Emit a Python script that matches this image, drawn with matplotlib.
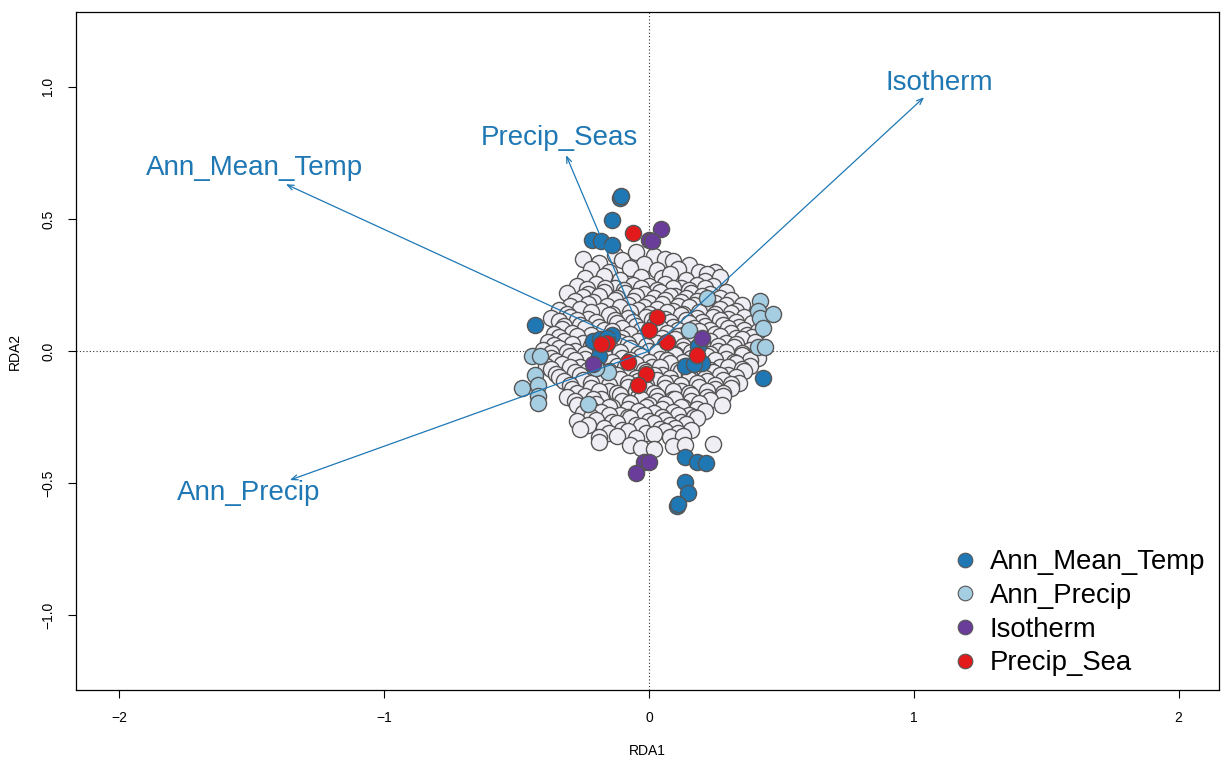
import matplotlib
matplotlib.use("Agg")
import matplotlib.pyplot as plt
from matplotlib.lines import Line2D

plt.rcParams['font.family'] = ['Liberation Sans', 'DejaVu Sans']

# ---------------- data ----------------
# grey site scores
grey_pts = [
    (-0.25, 0.35), (-0.13, 0.365), (-0.05, 0.375), (0.02, 0.36), (0.06, 0.35),
    (-0.19, 0.335), (-0.10, 0.345), (-0.02, 0.33), (0.09, 0.34), (0.15, 0.325), (0.25, 0.30),
    (-0.22, 0.31), (-0.15, 0.30), (-0.07, 0.315), (0.03, 0.305), (0.11, 0.31), (0.19, 0.30), (0.22, 0.29),
    (-0.24, 0.275), (-0.17, 0.285), (-0.11, 0.27), (-0.03, 0.28), (0.05, 0.275), (0.08, 0.29), (0.14, 0.27), (0.21, 0.265), (0.27, 0.28),
    (-0.27, 0.245), (-0.20, 0.255), (-0.13, 0.24), (-0.06, 0.25), (0.00, 0.245), (0.06, 0.255), (0.12, 0.24), (0.18, 0.25), (0.24, 0.245),
    (-0.235, 0.235), (-0.165, 0.24), (-0.095, 0.232), (-0.03, 0.238), (0.03, 0.23), (0.09, 0.24), (0.15, 0.232), (0.21, 0.238),
    (-0.31, 0.22), (-0.23, 0.215), (-0.17, 0.225), (-0.09, 0.22), (-0.02, 0.215), (0.04, 0.225), (0.10, 0.21), (0.16, 0.22), (0.23, 0.215), (0.29, 0.225),
    (-0.25, 0.205), (-0.19, 0.21), (-0.12, 0.20), (-0.05, 0.208), (0.02, 0.20), (0.08, 0.21), (0.14, 0.202), (0.20, 0.208), (0.27, 0.20),
    (-0.28, 0.19), (-0.21, 0.185), (-0.13, 0.195), (-0.06, 0.19), (0.00, 0.18), (0.06, 0.195), (0.12, 0.185), (0.18, 0.19), (0.25, 0.18), (0.31, 0.195), (0.35, 0.175),
    (-0.30, 0.172), (-0.23, 0.178), (-0.16, 0.17), (-0.08, 0.176), (-0.02, 0.168), (0.05, 0.178), (0.11, 0.17), (0.17, 0.176), (0.23, 0.168), (0.29, 0.174),
    (-0.34, 0.155), (-0.26, 0.16), (-0.18, 0.15), (-0.11, 0.165), (-0.04, 0.155), (0.03, 0.16), (0.09, 0.15), (0.15, 0.165), (0.21, 0.155), (0.27, 0.16), (0.33, 0.15),
    (-0.31, 0.142), (-0.22, 0.148), (-0.14, 0.14), (-0.07, 0.146), (0.00, 0.14), (0.07, 0.148), (0.13, 0.14), (0.19, 0.146), (0.25, 0.14), (0.31, 0.145),
    (-0.37, 0.125), (-0.30, 0.13), (-0.23, 0.12), (-0.15, 0.135), (-0.08, 0.125), (-0.01, 0.13), (0.06, 0.12), (0.12, 0.135), (0.18, 0.125), (0.24, 0.13), (0.30, 0.12), (0.36, 0.13),
    (-0.34, 0.112), (-0.27, 0.118), (-0.20, 0.11), (-0.13, 0.116), (-0.06, 0.11), (0.01, 0.118), (0.08, 0.11), (0.14, 0.116), (0.20, 0.11), (0.27, 0.116), (0.33, 0.11),
    (-0.32, 0.095), (-0.26, 0.10), (-0.19, 0.09), (-0.12, 0.105), (-0.05, 0.095), (0.02, 0.10), (0.09, 0.09), (0.15, 0.105), (0.21, 0.095), (0.28, 0.10), (0.34, 0.09), (0.39, 0.105),
    (-0.33, 0.082), (-0.24, 0.088), (-0.17, 0.08), (-0.10, 0.086), (-0.03, 0.08), (0.04, 0.088), (0.11, 0.08), (0.17, 0.086), (0.23, 0.08), (0.30, 0.086), (0.36, 0.08),
    (-0.36, 0.065), (-0.29, 0.07), (-0.22, 0.06), (-0.14, 0.075), (-0.07, 0.065), (0.00, 0.055), (0.07, 0.07), (0.13, 0.06), (0.19, 0.075), (0.25, 0.065), (0.31, 0.07), (0.37, 0.06), (0.41, 0.075),
    (-0.34, 0.052), (-0.27, 0.058), (-0.10, 0.05), (-0.02, 0.056), (0.05, 0.05), (0.11, 0.058), (0.17, 0.05), (0.27, 0.056), (0.33, 0.05), (0.39, 0.055),
    (-0.38, 0.035), (-0.32, 0.04), (-0.25, 0.03), (-0.11, 0.035), (-0.04, 0.04), (0.03, 0.03), (0.10, 0.045), (0.16, 0.035), (0.23, 0.04), (0.29, 0.03), (0.35, 0.045), (0.40, 0.035),
    (-0.36, 0.022), (-0.29, 0.028), (-0.22, 0.02), (-0.08, 0.026), (-0.01, 0.02), (0.06, 0.028), (0.13, 0.02), (0.20, 0.026), (0.26, 0.02), (0.33, 0.026),
    (-0.40, 0.005), (-0.34, 0.01), (-0.28, 0.00), (-0.21, 0.015), (-0.14, 0.005), (-0.07, 0.01), (0.00, 0.00), (0.06, 0.015), (0.13, 0.005), (0.19, 0.01), (0.26, 0.00), (0.32, 0.015), (0.38, 0.005),
    (-0.37, -0.008), (-0.31, -0.002), (-0.24, -0.01), (-0.11, -0.004), (-0.04, -0.01), (0.03, -0.002), (0.10, -0.01), (0.16, -0.004), (0.23, -0.01), (0.29, -0.004), (0.35, -0.008),
    (-0.37, -0.025), (-0.30, -0.02), (-0.24, -0.03), (-0.17, -0.015), (-0.10, -0.025), (-0.03, -0.02), (0.04, -0.03), (0.10, -0.015), (0.16, -0.025), (0.22, -0.02), (0.29, -0.03), (0.35, -0.015), (0.41, -0.025),
    (-0.35, -0.038), (-0.28, -0.032), (-0.14, -0.04), (-0.07, -0.032), (0.00, -0.04), (0.07, -0.032), (0.13, -0.04), (0.25, -0.032), (0.32, -0.04), (0.38, -0.035),
    (-0.39, -0.055), (-0.33, -0.05), (-0.26, -0.06), (-0.12, -0.055), (-0.05, -0.05), (0.01, -0.06), (0.08, -0.045), (0.14, -0.055), (0.20, -0.05), (0.27, -0.06), (0.33, -0.045), (0.38, -0.055),
    (-0.37, -0.068), (-0.30, -0.062), (-0.23, -0.07), (-0.09, -0.062), (-0.02, -0.07), (0.04, -0.062), (0.11, -0.07), (0.17, -0.062), (0.23, -0.07), (0.30, -0.062), (0.35, -0.068),
    (-0.35, -0.085), (-0.28, -0.08), (-0.22, -0.09), (-0.15, -0.075), (-0.08, -0.085), (-0.01, -0.08), (0.05, -0.09), (0.12, -0.075), (0.18, -0.085), (0.24, -0.08), (0.30, -0.09), (0.36, -0.075),
    (-0.34, -0.098), (-0.26, -0.092), (-0.19, -0.10), (-0.12, -0.092), (-0.05, -0.10), (0.02, -0.092), (0.08, -0.10), (0.15, -0.092), (0.21, -0.10), (0.27, -0.092), (0.33, -0.098),
    (-0.32, -0.115), (-0.25, -0.11), (-0.18, -0.12), (-0.11, -0.105), (-0.04, -0.115), (0.03, -0.11), (0.09, -0.12), (0.15, -0.105), (0.22, -0.115), (0.28, -0.11), (0.34, -0.12),
    (-0.30, -0.128), (-0.22, -0.122), (-0.15, -0.13), (-0.08, -0.122), (-0.01, -0.13), (0.06, -0.122), (0.12, -0.13), (0.18, -0.122), (0.25, -0.13), (0.31, -0.125),
    (-0.29, -0.145), (-0.22, -0.14), (-0.15, -0.15), (-0.08, -0.135), (-0.01, -0.145), (0.06, -0.14), (0.12, -0.15), (0.19, -0.135), (0.25, -0.145), (0.31, -0.14),
    (-0.27, -0.158), (-0.19, -0.152), (-0.12, -0.16), (-0.05, -0.152), (0.02, -0.16), (0.09, -0.152), (0.15, -0.16), (0.22, -0.152), (0.28, -0.158),
    (-0.31, -0.175), (-0.24, -0.17), (-0.18, -0.18), (-0.11, -0.165), (-0.04, -0.175), (0.03, -0.17), (0.09, -0.18), (0.16, -0.165), (0.22, -0.175), (0.28, -0.17),
    (-0.28, -0.188), (-0.21, -0.182), (-0.10, -0.19), (-0.03, -0.182), (0.03, -0.19), (0.10, -0.182), (0.16, -0.19), (0.23, -0.185),
    (-0.27, -0.205), (-0.20, -0.20), (-0.14, -0.21), (-0.07, -0.195), (0.00, -0.205), (0.06, -0.20), (0.13, -0.21), (0.19, -0.195), (0.275, -0.205),
    (-0.22, -0.218), (-0.15, -0.212), (-0.08, -0.22), (-0.01, -0.212), (0.05, -0.22), (0.12, -0.212), (0.18, -0.22),
    (-0.25, -0.235), (-0.18, -0.23), (-0.11, -0.24), (-0.04, -0.225), (0.02, -0.235), (0.09, -0.23), (0.15, -0.24), (0.21, -0.225),
    (-0.22, -0.248), (-0.15, -0.242), (-0.08, -0.25), (-0.02, -0.242), (0.05, -0.25), (0.11, -0.242), (0.17, -0.248),
    (-0.27, -0.265), (-0.20, -0.26), (-0.14, -0.27), (-0.07, -0.255), (0.00, -0.265), (0.06, -0.26), (0.12, -0.27), (0.18, -0.255),
    (-0.23, -0.278), (-0.12, -0.272), (-0.05, -0.28), (0.02, -0.272), (0.08, -0.28), (0.14, -0.275),
    (-0.26, -0.295), (-0.17, -0.29), (-0.10, -0.30), (-0.03, -0.285), (0.04, -0.295), (0.10, -0.29), (0.16, -0.30),
    (-0.15, -0.308), (-0.08, -0.302), (-0.01, -0.31), (0.06, -0.302), (0.11, -0.308),
    (-0.19, -0.325), (-0.12, -0.32), (-0.05, -0.33), (0.02, -0.315), (0.08, -0.325), (0.13, -0.32),
    (-0.19, -0.345), (-0.07, -0.355), (-0.03, -0.365), (0.02, -0.37), (0.09, -0.36), (0.135, -0.355), (0.24, -0.35),
]
grey_x = [p[0] for p in grey_pts]
grey_y = [p[1] for p in grey_pts]

# coloured outlier sites, by predictor
temp_x = [-0.11, -0.105, -0.14, -0.215, -0.18, -0.14, -0.43, 0.43, 0.136, 0.18, 0.215, 0.136, 0.147, 0.105, 0.11,
          -0.21, -0.185, -0.14, -0.16, -0.19, 0.135, 0.185, 0.20, 0.17]
temp_y = [0.58, 0.585, 0.495, 0.42, 0.415, 0.40, 0.10, -0.10, -0.40, -0.42, -0.425, -0.495, -0.537, -0.585, -0.58,
          0.04, 0.045, 0.06, 0.05, -0.02, -0.055, 0.02, -0.045, -0.05]

precip_x = [0.42, 0.41, 0.42, 0.47, 0.43, 0.22, 0.41, 0.44, 0.15, -0.44, -0.41, -0.43, -0.48, -0.42, -0.42, -0.42,
            -0.23, -0.155, -0.20]
precip_y = [0.19, 0.15, 0.125, 0.14, 0.087, 0.20, 0.015, 0.015, 0.08, -0.02, -0.02, -0.09, -0.14, -0.13, -0.17, -0.196,
            -0.20, -0.08, -0.065]

iso_x = [0.045, 0.0, 0.01, -0.02, 0.0, -0.05, -0.21, 0.20]
iso_y = [0.46, 0.42, 0.415, -0.42, -0.42, -0.46, -0.05, 0.05]

sea_x = [-0.06, 0.03, 0.0, 0.07, -0.16, -0.18, 0.18, -0.08, -0.01, -0.04]
sea_y = [0.445, 0.13, 0.08, 0.035, 0.03, 0.025, -0.015, -0.04, -0.085, -0.13]

# biplot arrows (environmental predictors)
env_names = ["Ann_Mean_Temp", "Precip_Seas", "Isotherm", "Ann_Precip"]
env_x = [-1.371, -0.313, 1.039, -1.356]
env_y = [0.631, 0.741, 0.960, -0.488]
lab_x = [-1.49, -0.34, 1.095, -1.51]
lab_y = [0.692, 0.805, 1.013, -0.537]

legend_names = ["Ann_Mean_Temp", "Ann_Precip", "Isotherm", "Precip_Sea"]
legend_cols = ["#1F78B4", "#A6CEE3", "#6A3D9A", "#E31A1C"]

# ---------------- plot ----------------
fig = plt.figure(figsize=(12.21, 7.59), dpi=100)
ax = fig.add_axes([0.0622, 0.0909, 0.9362, 0.8931])

ax.axhline(0, color="#333333", lw=0.8, ls=(0, (1, 2)), zorder=1)
ax.axvline(0, color="#333333", lw=0.8, ls=(0, (1, 2)), zorder=1)

S = 135
ec = "#555555"
ax.scatter(grey_x, grey_y, s=S, c="#F0EEF5", edgecolors=ec, linewidths=1.0, zorder=2)
for xs, ys, col in [(temp_x, temp_y, legend_cols[0]), (precip_x, precip_y, legend_cols[1]),
                    (iso_x, iso_y, legend_cols[2]), (sea_x, sea_y, legend_cols[3])]:
    ax.scatter(xs, ys, s=S, c=col, edgecolors=ec, linewidths=1.0, zorder=3)

arrow_col = "#1F78B4"
for name, ex, ey, lx, ly in zip(env_names, env_x, env_y, lab_x, lab_y):
    ax.annotate("", xy=(ex, ey), xytext=(0, 0),
                arrowprops=dict(arrowstyle="->,head_length=0.45,head_width=0.18",
                                color=arrow_col, lw=0.9, shrinkA=0, shrinkB=0), zorder=4)
    ax.text(lx, ly, name, color=arrow_col, fontsize=20, ha="center", va="center", zorder=5)

ax.set_xlim(-2.164, 2.153)
ax.set_ylim(-1.282, 1.282)
ax.set_xticks([-2, -1, 0, 1, 2])
ax.set_xticklabels(["\u22122", "\u22121", "0", "1", "2"])
ax.set_yticks([-1.0, -0.5, 0.0, 0.5, 1.0])
ax.set_yticklabels(["\u22121.0", "\u22120.5", "0.0", "0.5", "1.0"], rotation=90, va="center")
ax.tick_params(direction="out", length=6, width=0.8, labelsize=10, pad=9)
ax.set_xlabel("RDA1", fontsize=10, labelpad=14)
ax.set_ylabel("RDA2", fontsize=10, labelpad=14)
for sp in ax.spines.values():
    sp.set_linewidth(0.9)

handles = [Line2D([0], [0], marker="o", ls="", markersize=10.5, markerfacecolor=c,
                  markeredgecolor=ec, markeredgewidth=0.8) for c in legend_cols]
ax.legend(handles, legend_names, loc="lower right", frameon=False, fontsize=19.8,
          handletextpad=0.3, labelspacing=0.28, borderaxespad=0.1,
          bbox_to_anchor=(1.0, 0.0), handlelength=1.2)

fig.savefig("out.png", dpi=100)
